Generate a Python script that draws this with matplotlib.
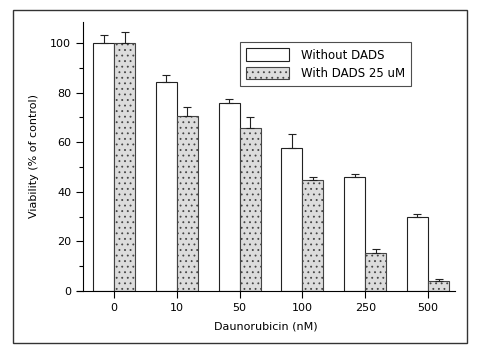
import numpy as np
import matplotlib
matplotlib.use("Agg")
import matplotlib.pyplot as plt
from matplotlib.patches import Rectangle

# datos
dosis = ["0", "10", "50", "100", "250", "500"]
sin_dads = [100, 84.3, 75.9, 57.6, 46.0, 30.0]
err_sin = [3.2, 2.8, 1.6, 5.7, 1.2, 1.0]
con_dads = [100, 70.6, 65.6, 44.8, 15.2, 3.9]
err_con = [4.3, 3.6, 4.4, 1.0, 1.7, 1.0]

plt.rcParams['font.family'] = ['DejaVu Sans']
plt.rcParams['hatch.color'] = '#bdbdbd'
plt.rcParams['hatch.linewidth'] = 0.6

fig = plt.figure(figsize=(4.8, 3.53), dpi=100)
W, H = 480, 353
ax = fig.add_axes([77 / W, 1 - 291 / H, 378 / W, (291 - 22) / H])

x = np.arange(len(dosis))
ancho = 0.335
ax.bar(x - ancho / 2, sin_dads, ancho, color='white', edgecolor='#222222',
       linewidth=0.8, label='Without DADS',
       yerr=[np.zeros(len(err_sin)), err_sin], capsize=3,
       error_kw=dict(elinewidth=0.8, capthick=0.8, ecolor='#222222'))
ax.bar(x + ancho / 2, con_dads, ancho, color='#dcdcdc', edgecolor='#444444',
       linewidth=0.8, hatch='...', label='With DADS 25 uM',
       yerr=[np.zeros(len(err_con)), err_con], capsize=3,
       error_kw=dict(elinewidth=0.8, capthick=0.8, ecolor='#222222'))

ax.set_xlim(-0.59, 5.43)
ax.set_ylim(0, 108.5)
ax.set_xticks(x)
ax.set_xticklabels(dosis, fontsize=8)
ax.set_yticks([0, 20, 40, 60, 80, 100])
ax.set_yticks(np.arange(10, 100, 20), minor=True)
ax.tick_params(axis='y', labelsize=8, direction='out', length=5, width=0.8)
ax.tick_params(axis='y', which='minor', direction='out', length=3, width=0.8)
ax.tick_params(axis='x', direction='out', length=5, width=0.8)

for lado in ['top', 'right']:
    ax.spines[lado].set_visible(False)
ax.spines['left'].set_position(('axes', 6 / 378))
ax.spines['left'].set_linewidth(0.8)
ax.spines['bottom'].set_linewidth(0.8)

ax.set_xlabel("Daunorubicin (nM)", fontsize=8, labelpad=6)
ax.set_ylabel("Viability (% of control)", fontsize=8, labelpad=8)

leg = ax.legend(loc='upper left', bbox_to_anchor=((240 - 77) / 378, 1 - (42 - 22) / 269),
                borderaxespad=0, fontsize=8.5, frameon=True, fancybox=False,
                edgecolor='#222222', handlelength=3.6, handleheight=1.2,
                handletextpad=1.0, borderpad=0.55, labelspacing=0.45)
leg.get_frame().set_linewidth(0.8)

# marco exterior de la figura
fig.patches.append(Rectangle((13 / W, 1 - 343 / H), (467 - 13) / W, (343 - 10) / H,
                             transform=fig.transFigure, fill=False,
                             edgecolor='#333333', linewidth=1.0))

fig.savefig("out.png", dpi=100)
